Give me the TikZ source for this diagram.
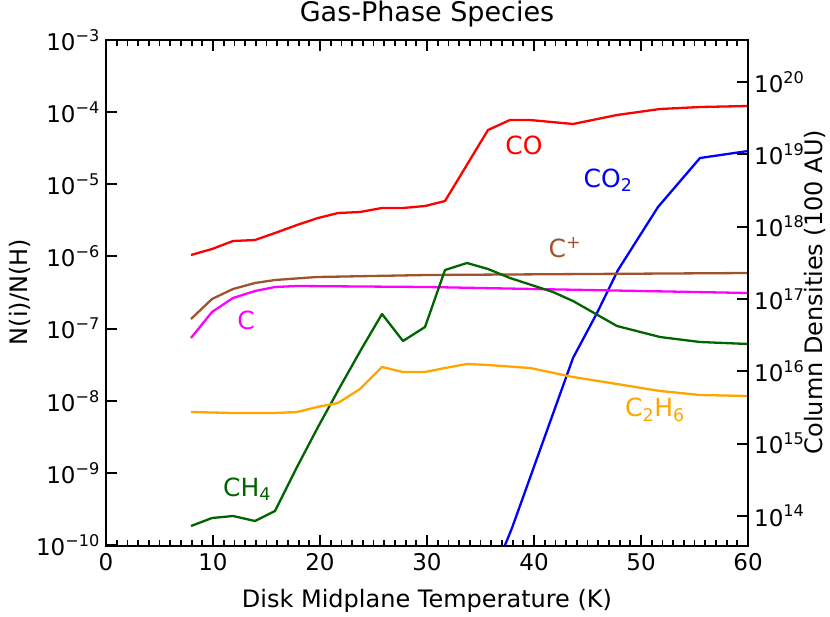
\documentclass[tikz,border=0pt]{standalone}
\usepackage{fontspec}
\setmainfont{DejaVu Sans}
\definecolor{mag}{RGB}{255,0,255}
\definecolor{sien}{RGB}{160,82,45}
\definecolor{dgreen}{RGB}{0,100,0}
\definecolor{orng}{RGB}{255,165,0}
\definecolor{blu}{RGB}{0,0,255}
\definecolor{rd}{RGB}{255,0,0}
\begin{document}
\begin{tikzpicture}[x=1pt,y=-1pt,
  curve/.style={line width=2.3pt,line join=round},
  lab/.style={font=\fontsize{25}{28}\selectfont,inner sep=0pt},
  tl/.style={font=\fontsize{23}{26}\selectfont,inner sep=1pt}]
\useasboundingbox (0,0) rectangle (830,616);
\begin{scope}
\clip (106,40) rectangle (748,546);
\draw[curve,rd] (191,255)--(212,249)--(233,241)--(255,240)--(275,233)--(297,225)--(318,218)--(338,213)--(360,212)--(382,208)--(403,208)--(425,206)--(445,201)--(465,168)--(488,130)--(510,120)--(530,120)--(573,124)--(617,115)--(660,109)--(700,107)--(748,106);
\draw[curve,blu] (503,550)--(512,528)--(573,358)--(597,313)--(618,270)--(658,207)--(700,158)--(748,151);
\draw[curve,sien] (191,319)--(212,299)--(233,289)--(255,283)--(275,280)--(317,277)--(427,275)--(748,273);
\draw[curve,mag] (191,338)--(212,312)--(233,298)--(255,291)--(275,287)--(297,286)--(427,287)--(748,293);
\draw[curve,dgreen] (191,526)--(212,518)--(233,516)--(255,521)--(275,511)--(297,467)--(318,427)--(340,387)--(362,348)--(382,314)--(403,341)--(425,327)--(445,270)--(467,263)--(488,269)--(510,278)--(553,292)--(573,301)--(617,326)--(660,337)--(700,342)--(748,344);
\draw[curve,orng] (191,412)--(233,413)--(275,413)--(297,412)--(317,407)--(338,403)--(360,389)--(382,367)--(403,372)--(425,372)--(445,368)--(467,364)--(488,365)--(530,368)--(573,377)--(617,384)--(660,391)--(700,395)--(748,396);
\end{scope}
\draw[line width=2.4pt] (106,40) rectangle (748,546);
% x ticks
\foreach \i in {0,...,60}{
  \pgfmathsetmacro\xx{106+10.7*\i}
  \draw[line width=1.8pt] (\xx,546)--(\xx,540);
  \draw[line width=1.8pt] (\xx,40)--(\xx,46);}
\foreach \i in {0,10,...,60}{
  \pgfmathsetmacro\xx{106+10.7*\i}
  \draw[line width=2pt] (\xx,546)--(\xx,535);
  \draw[line width=2pt] (\xx,40)--(\xx,51);
  \node[tl,anchor=north] at (\xx,552) {\i};}
% left y ticks
\foreach \e [count=\k from 0] in {3,4,5,6,7,8,9,10}{
  \pgfmathsetmacro\yy{40+72.14*\k}
  \draw[line width=2pt] (106,\yy)--(117,\yy);
  \node[tl,anchor=east] at (101,\yy) {10\textsuperscript{−\e}};}
% right y ticks
\foreach \e [count=\k from 0] in {20,19,18,17,16,15,14}{
  \pgfmathsetmacro\yy{82+72.3*\k}
  \draw[line width=2pt] (748,\yy)--(737,\yy);
  \node[tl,anchor=west] at (753,\yy) {10\textsuperscript{\e}};}
% labels
\node[lab,rd] (co) at (524,145) {CO};
\node[lab,blu] (co2) at (608,180) {CO\textsubscript{2}};
\node[lab,sien] (cp) at (565,248) {C\textsuperscript{+}};
\node[lab,mag] (c) at (246,320) {C};
\node[lab,dgreen] (ch4) at (247,489) {CH\textsubscript{4}};
\node[lab,orng] (c2h6) at (655,410) {C\textsubscript{2}H\textsubscript{6}};
\node[font=\fontsize{27}{30}\selectfont] (title) at (427,14) {Gas-Phase Species};
\node[font=\fontsize{24}{27}\selectfont] (xl) at (427,601) {Disk Midplane Temperature (K)};
\node[font=\fontsize{24}{27}\selectfont,rotate=90] (yl) at (20,292) {N(i)/N(H)};
\node[font=\fontsize{24}{27}\selectfont,rotate=90] (yr) at (815,292) {Column Densities (100 AU)};
\end{tikzpicture}
\end{document}
